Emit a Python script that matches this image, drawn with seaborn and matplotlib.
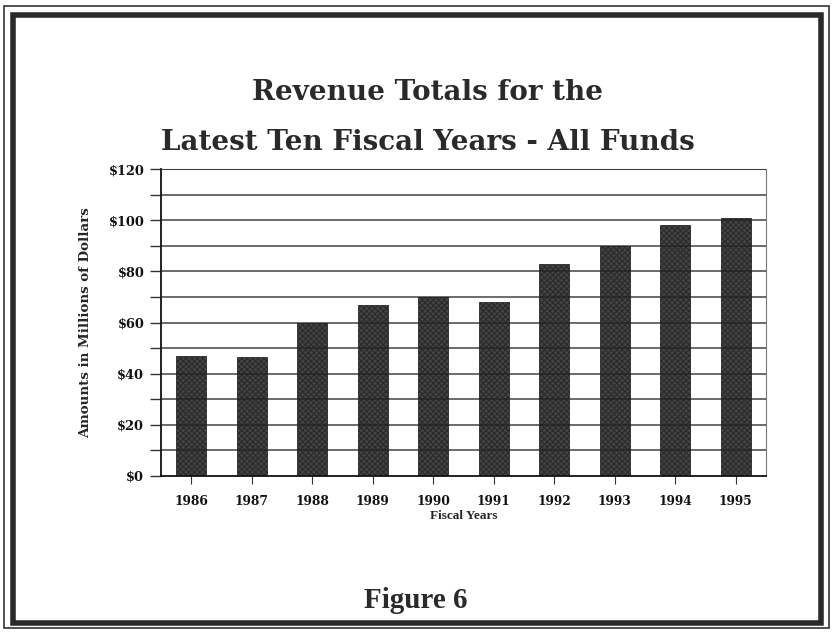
import matplotlib
matplotlib.use("Agg")
import matplotlib.pyplot as plt
import seaborn as sns
import pandas as pd
from matplotlib.patches import Rectangle
from matplotlib.font_manager import FontProperties

years = ["1986", "1987", "1988", "1989", "1990", "1991", "1992", "1993", "1994", "1995"]
revenue = [47, 46.5, 60, 67, 70, 68, 83, 90, 98, 101]
ytick_vals = [0, 20, 40, 60, 80, 100, 120]
ytick_labels = ["$0", "$20", "$40", "$60", "$80", "$100", "$120"]

df = pd.DataFrame({"Year": years, "Revenue": revenue})

sns.set_theme(style="white")
plt.rcParams["font.family"] = ["DejaVu Serif"]
plt.rcParams["hatch.color"] = "#a0a0a0"
plt.rcParams["hatch.linewidth"] = 0.8

lib_bold = lambda s: FontProperties(family=["Liberation Serif"], weight="bold", size=s)

fig = plt.figure(figsize=(8.33, 6.32), dpi=100)
ax = fig.add_axes([161 / 833, 1 - 476 / 632, (766 - 161) / 833, (476 - 169) / 632])

sns.barplot(data=df, x="Year", y="Revenue", ax=ax, color="#444444", width=0.5,
            saturation=1, zorder=2)
for p in ax.patches:
    p.set_hatch("xxxxxx")
    p.set_edgecolor("#2a2a2a")
    p.set_linewidth(0.6)

ax.set_ylim(0, 120)
ax.set_yticks(ytick_vals)
ax.set_yticklabels(ytick_labels)
ax.set_yticks(range(10, 120, 20), minor=True)
for y in range(10, 121, 10):
    ax.axhline(y, color="#222222", lw=1.1, zorder=3, alpha=0.85)

for lab in ax.get_yticklabels():
    lab.set_fontweight("bold")
    lab.set_fontsize(9.3)
for lab in ax.get_xticklabels():
    lab.set_fontweight("bold")
    lab.set_fontsize(8.8)
ax.tick_params(axis="both", which="both", direction="out", colors="#333333",
               labelcolor="#111111", bottom=True, left=True)
ax.tick_params(axis="y", which="major", length=8, width=1, pad=4)
ax.tick_params(axis="y", which="minor", length=8, width=1)
ax.tick_params(axis="x", which="major", length=6, width=0.8, pad=8)

ax.set_xlabel("Fiscal Years", fontproperties=lib_bold(9.5), labelpad=1)
ax.set_ylabel("Amounts in Millions of Dollars", fontsize=9.6, fontweight="bold", labelpad=12)

for s in ["left", "bottom"]:
    ax.spines[s].set_color("#111111")
    ax.spines[s].set_linewidth(1.3)
for s in ["top", "right"]:
    ax.spines[s].set_visible(True)
    ax.spines[s].set_color("#777777")
    ax.spines[s].set_linewidth(0.8)

fig.text(428 / 833, 1 - 92 / 632, "Revenue Totals for the", ha="center", va="center",
         fontsize=20, fontweight="bold", color="#2a2a2a")
fig.text(428 / 833, 1 - 142 / 632, "Latest Ten Fiscal Years - All Funds", ha="center", va="center",
         fontsize=20, fontweight="bold", color="#2a2a2a")
fig.text(416 / 833, 1 - 600 / 632, "Figure 6", ha="center", va="center",
         fontproperties=lib_bold(21), color="#2a2a2a")

# double border frame
fig.patches.append(Rectangle((4 / 833, 4 / 632), 825 / 833, 622 / 632,
                             transform=fig.transFigure, fill=False,
                             edgecolor="#333333", lw=1.2))
fig.patches.append(Rectangle((13 / 833, 9 / 632), 808 / 833, 608 / 632,
                             transform=fig.transFigure, fill=False,
                             edgecolor="#2a2a2a", lw=4))

fig.savefig("out.png", dpi=100)
